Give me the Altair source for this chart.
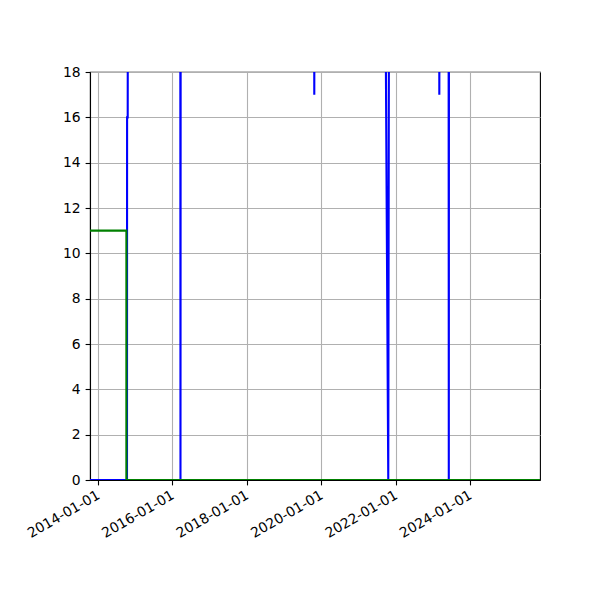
import altair as alt
import pandas as pd

# Blue series (values above 18 are clipped off the top of the plot)
blue_dates = [
    "2013-10-16", "2014-10-14", "2014-10-15", "2014-10-21", "2014-10-23",
    "2016-03-20", "2016-03-22", "2016-03-24",
    "2019-10-24", "2019-10-26", "2019-10-28",
    "2021-09-19", "2021-10-21", "2021-10-29",
    "2023-03-04", "2023-03-06", "2023-03-08",
    "2023-06-05", "2023-06-07", "2023-06-09",
    "2025-11-18",
]
blue_values = [
    0, 0, 16, 16, 25,
    25, 0, 25,
    25, 17, 25,
    25, 0, 25,
    25, 17, 25,
    25, 0, 25,
    25,
]

# Green series
green_dates = ["2013-10-16", "2014-10-08", "2014-10-08", "2025-11-18"]
green_values = [11, 11, 0, 0]

tick_years = [2014, 2016, 2018, 2020, 2022, 2024]
y_ticks = [0, 2, 4, 6, 8, 10, 12, 14, 16, 18]

blue_df = pd.DataFrame({
    "date": [d + "T00:00:00" for d in blue_dates],
    "value": blue_values,
    "order": list(range(len(blue_dates))),
})
green_df = pd.DataFrame({
    "date": [d + "T00:00:00" for d in green_dates],
    "value": green_values,
    "order": list(range(len(green_dates))),
})

x_scale = alt.Scale(domain=[alt.DateTime(year=2013, month=10, date=16),
                            alt.DateTime(year=2025, month=11, date=18)])
y_scale = alt.Scale(domain=[0, 18], nice=False, zero=False)

x_axis = alt.Axis(
    values=[alt.DateTime(year=y, month=1, date=1) for y in tick_years],
    format="%Y-%m-%d", labelAngle=330, labelAlign="right", labelBaseline="top",
    labelOffset=-3, labelPadding=3, labelOverlap=False, labelFlush=False,
    title=None, grid=True,
)
y_axis = alt.Axis(values=y_ticks, title=None, grid=True, labelBaseline="middle",
                  labelOverlap=False, labelFlush=False)

x_enc = alt.X("date:T", scale=x_scale, axis=x_axis)
y_enc = alt.Y("value:Q", scale=y_scale, axis=y_axis)

blue = alt.Chart(blue_df).mark_line(color="#0000ff", strokeWidth=2.1, clip=True).encode(
    x=x_enc, y=y_enc, order="order:Q"
)
green = alt.Chart(green_df).mark_line(color="#008000", strokeWidth=2.1, clip=True).encode(
    x=x_enc, y=y_enc, order="order:Q"
)

chart = alt.layer(blue, green).properties(
    width=450, height=408,
    autosize=alt.AutoSizeParams(type="none"),
    padding={"left": 82, "top": 64, "right": 52, "bottom": 112},
).configure_view(
    stroke="black", strokeWidth=1.1
).configure_axis(
    labelFont="DejaVu Sans", labelFontSize=13.9, labelColor="black",
    tickColor="black", tickSize=4.9, tickWidth=1.1,
    domainColor="black", domainWidth=1.1,
    gridColor="#b0b0b0", gridWidth=1.1, labelPadding=4.9,
)

chart.save("out.html", embed_options={"renderer": "svg", "actions": False})
